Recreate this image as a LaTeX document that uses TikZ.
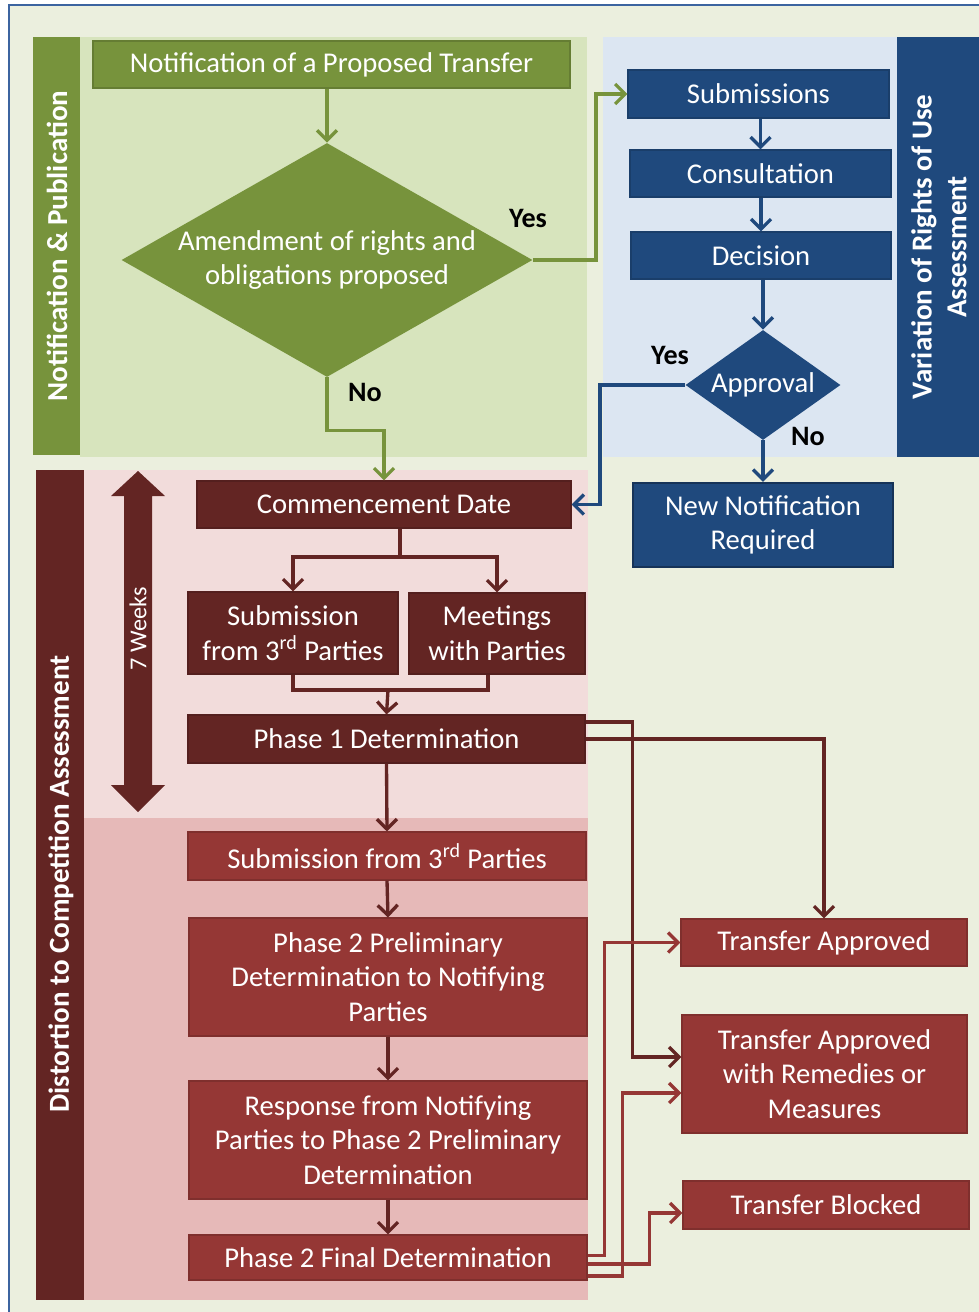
\documentclass[tikz,border=0pt]{standalone}
\usepackage{fontspec}
\setmainfont{Carlito}
\usetikzlibrary{shapes.geometric,arrows.meta}

\definecolor{cream}{HTML}{EBEFDE}
\definecolor{frameblue}{HTML}{3C64A0}
\definecolor{grn}{HTML}{77933C}
\definecolor{grnlt}{HTML}{D7E4BD}
\definecolor{blu}{HTML}{1F497D}
\definecolor{blult}{HTML}{DCE6F2}
\definecolor{rdk}{HTML}{632523}
\definecolor{rd}{HTML}{953735}
\definecolor{pinklt}{HTML}{F2DCDB}
\definecolor{pinkdk}{HTML}{E6B9B8}

% name, centre x, centre y, width, height, style, text (all in pixels)
\newcommand{\blk}[7]{\node[#6,minimum width=#4*0.02cm,minimum height=#5*0.02cm] (#1) at (#2,#3) {#7};}

\begin{document}
\begin{tikzpicture}[x=0.02cm,y=-0.02cm,font=\fontsize{16.3}{19.8}\selectfont,
  box/.style={rectangle,inner sep=0pt,text=white,align=center,fill=#1,draw=#1!85!black,line width=.6pt},
  side/.style={rotate=90,text=white,align=center,font=\fontsize{16.5}{19.8}\selectfont\bfseries},
  link/.style={draw=#1,line width=1.9pt,-{Straight Barb[length=2mm,width=4mm]}},
  line/.style={draw=#1,line width=1.9pt},
  yn/.style={font=\fontsize{16}{19}\selectfont\bfseries}]
  \useasboundingbox (0,0) rectangle (979,1312);
  \fill[white] (0,0) rectangle (979,1312);
  \fill[cream] (9,5) rectangle (979,1312);
  \draw[frameblue,line width=1.7pt] (9,1312) -- (9,5) -- (979,5);

  % panels and side bars
  \fill[grnlt] (80,37) rectangle (587,457);
  \fill[grn] (33,37) rectangle (80,455);
  \node[side] at (57,246) {Notification \& Publication};
  \fill[blult] (603,37) rectangle (897,457);
  \fill[blu] (897,37) rectangle (979,457);
  \node[side] at (939,247) {Variation of Rights of Use\\Assessment};
  \fill[pinklt] (84,470) rectangle (588,818);
  \fill[pinkdk] (84,818) rectangle (588,1300);
  \fill[rdk] (36,470) rectangle (84,1300);
  \node[side] at (61,884) {Distortion to Competition Assessment};
  \fill[rdk] (138,471) -- (165,496) -- (152,496) -- (152,785) -- (165,785) -- (138,812)
    -- (111,785) -- (124,785) -- (124,496) -- (111,496) -- cycle;
  \node[rotate=90,text=white,font=\fontsize{13.8}{16}\selectfont] at (138,629) {7 Weeks};

  % notification
  \blk{notif}{331.5}{64.5}{477}{47}{box=grn}{Notification of a Proposed Transfer}
  \node[diamond,fill=grn,inner sep=0pt,minimum width=411*0.02cm,minimum height=234*0.02cm] (amend) at (327,260) {};
  \node[text=white,align=center] at (amend) {Amendment of rights and\\obligations proposed};

  % variation of rights
  \blk{subm}{758.5}{94}{261}{48}{box=blu}{Submissions}
  \blk{consult}{760.5}{173.5}{261}{47}{box=blu}{Consultation}
  \blk{decision}{761}{255.5}{260}{47}{box=blu}{Decision}
  \node[diamond,fill=blu,inner sep=0pt,minimum width=155*0.02cm,minimum height=110*0.02cm] (approval) at (763,385) {};
  \node[text=white] at (approval) {Approval};
  \blk{newnot}{763}{525}{260}{84}{box=blu,draw=blu!70!black,line width=1.2pt}{New Notification\\Required}

  % competition assessment
  \blk{commence}{384}{504.5}{374}{47}{box=rdk}{Commencement Date}
  \blk{sub3a}{293}{633}{210}{82}{box=rdk}{Submission\\from 3\textsuperscript{rd} Parties}
  \blk{meet}{497}{633.5}{176}{81}{box=rdk}{Meetings\\with Parties}
  \blk{phase1}{386.5}{739}{397}{48}{box=rdk}{Phase 1 Determination}
  \blk{sub3b}{387}{856}{398}{48}{box=rd}{Submission from 3\textsuperscript{rd} Parties}
  \blk{prelim}{388}{977}{398}{118}{box=rd}{Phase 2 Preliminary\\Determination to Notifying\\Parties}
  \blk{response}{388}{1140}{398}{118}{box=rd}{Response from Notifying\\Parties to Phase 2 Preliminary\\Determination}
  \blk{final}{388}{1257.5}{398}{45}{box=rd}{Phase 2 Final Determination}

  % outcomes
  \blk{approved}{824}{942.5}{286}{47}{box=rd}{Transfer Approved}
  \blk{remedies}{824.5}{1074}{285}{118}{box=rd}{Transfer Approved\\with Remedies or\\Measures}
  \blk{blocked}{826}{1205}{286}{48}{box=rd}{Transfer Blocked}

  \node[yn] at (528,218) {Yes};
  \node[yn] at (365,392) {No};
  \node[yn] at (670,355) {Yes};
  \node[yn] at (808,436) {No};

  \coordinate (split) at (400,557);
  \coordinate (merge) at (388,690);

  \draw[link=grn] (amend.north |- notif.south) -- (amend.north);
  \draw[link=grn] (amend.east) -- ++(63,0) |- (subm.west);
  \draw[link=grn] (amend.south) -- ++(0,53) -| (commence.north);
  \draw[link=blu] (consult.north |- subm.south) -- (consult.north);
  \draw[link=blu] (decision.north |- consult.south) -- (decision.north);
  \draw[link=blu] (approval.north |- decision.south) -- (approval.north);
  \draw[link=blu] (approval.south) -- (newnot.north);
  \draw[link=blu] (approval.west) -- ++(-85,0) |- (commence.east);
  \draw[line=rdk] (commence.south -| split) -- (split);
  \draw[link=rdk] (split) -| (sub3a.north);
  \draw[link=rdk] (split) -| (meet.north);
  \draw[line=rdk] (sub3a.south) |- (merge) -| ([xshift=-.18cm]meet.south);
  \draw[link=rdk] (merge) -- (phase1.north);
  \draw[link=rdk] (phase1.south) -- (sub3b.north);
  \draw[link=rdk] (sub3b.south) -- (prelim.north);
  \draw[link=rdk] (prelim.south) -- (response.north);
  \draw[link=rdk] (response.south) -- (final.north);
  \draw[link=rdk] ([yshift=.34cm]phase1.east) -- ++(47,0) |- ([yshift=.34cm]remedies.west);
  \draw[link=rdk] (phase1.east) -| (approved.north);
  \draw[link=rd] ([yshift=.04cm]final.east) -- ++(17,0) |- (approved.west);
  \draw[link=rd] ([yshift=-.13cm]final.east) -- ++(62,0) |- ([yshift=-.16cm]blocked.west);
  \draw[link=rd] ([yshift=-.37cm]final.east) -- ++(35,0) |- ([yshift=-.38cm]remedies.west);
\end{tikzpicture}
\end{document}
